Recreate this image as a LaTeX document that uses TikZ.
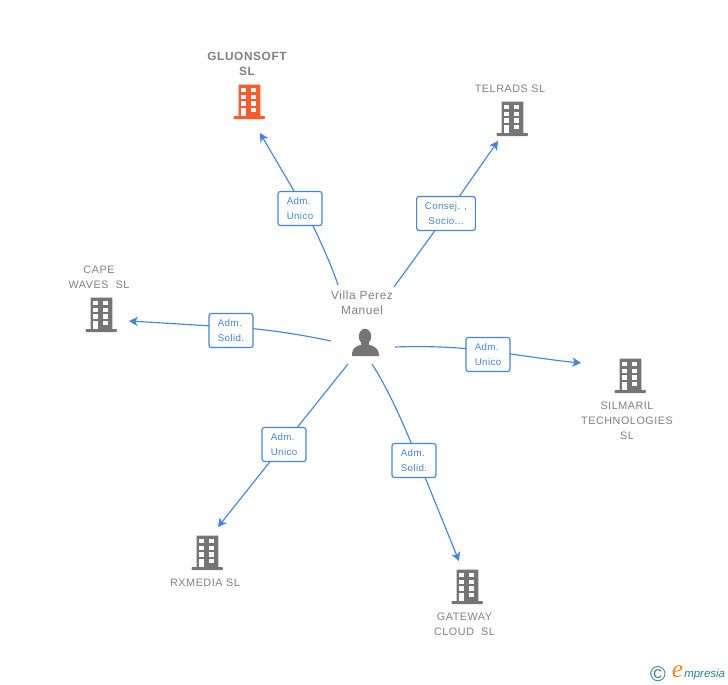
\documentclass[tikz,border=0pt]{standalone}
\usepackage{fontspec}
\setmainfont{Liberation Sans}
\newfontfamily\lblfont[LetterSpace=5]{Liberation Sans}
\newfontfamily\boxfont[LetterSpace=4]{Liberation Sans}
\newfontfamily\logofont{Liberation Serif}
\usetikzlibrary{arrows.meta}
\definecolor{linkblue}{HTML}{4285E0}
\definecolor{icongrey}{HTML}{757575}
\definecolor{textgrey}{HTML}{808080}
\definecolor{hot}{HTML}{FF5A2B}
\definecolor{logoteal}{HTML}{2F7F97}
\definecolor{logoorange}{HTML}{F08A1D}
\tikzset{
  x=0.75pt,y=-0.75pt,
  conn/.style={draw=linkblue,line width=0.85pt},
  arr/.style={conn,-{Stealth[length=6.5pt,width=6.8pt,inset=1.8pt]}},
  linkbox/.style={draw=linkblue,fill=white,rounded corners=1.8pt,line width=0.85pt,
    minimum width=33pt,minimum height=25.5pt,inner sep=0pt,align=left,
    font=\boxfont\fontsize{7.3pt}{11.2pt}\selectfont,text=linkblue},
  cname/.style={inner sep=0pt,align=center,font=\lblfont\fontsize{8.1pt}{11.25pt}\selectfont,text=textgrey},
  pname/.style={inner sep=0pt,align=center,font=\lblfont\fontsize{8.9pt}{11.25pt}\selectfont,text=textgrey},
  iconbox/.style={inner sep=0pt,minimum size=1pt},
  pics/building/.style={code={
    \fill[#1,rounded corners=0.4pt] (-9.5,-17.3) rectangle (12.3,14.5);
    \fill[#1,rounded corners=0.6pt] (-14.5,14) rectangle (16.8,17);
    \foreach \yy in {-14,-7.4,-0.8}{
      \fill[white] (-6.7,\yy) rectangle (-1.8,\yy+4.3);
      \fill[white] (2.8,\yy) rectangle (8,\yy+4.3);
    }
    \fill[white] (-6.7,5.8) rectangle (-1.8,14);
    \fill[white] (2.8,5.8) rectangle (8,10.4);
  }}
}
\begin{document}
\begin{tikzpicture}
\useasboundingbox (0,0) rectangle (728,685);
% icons
\node[iconbox] (gluon) at (248,102) {};
\node[iconbox] (telrads) at (511,119) {};
\node[iconbox] (cape) at (100,315) {};
\node[iconbox] (silmaril) at (629,376) {};
\node[iconbox] (rxmedia) at (206,553) {};
\node[iconbox] (gateway) at (466,587) {};
\pic at (gluon) {building=hot};
\pic at (telrads) {building=icongrey};
\pic at (cape) {building=icongrey};
\pic at (silmaril) {building=icongrey};
\pic at (rxmedia) {building=icongrey};
\pic at (gateway) {building=icongrey};
% person
\node[iconbox] (person) at (365,343) {};
\fill[icongrey] (365,336.5) ellipse (6.2 and 7.7);
\fill[icongrey] (352,356) .. controls (352,350) and (353,347.5) .. (360,345)
  -- (370,345) .. controls (377,347.5) and (379,350) .. (379,356) -- cycle;
\fill[icongrey] (361,340) rectangle (369,346);
% labels
\node[cname,font=\lblfont\fontsize{8.9pt}{11.25pt}\bfseries\selectfont] (tg) at (247,64) {GLUONSOFT\\SL};
\node[cname] (tt) at (510,88.8) {TELRADS SL};
\node[cname] (tc) at (99,277.2) {CAPE\\WAVES\ \ SL};
\node[cname] (ts) at (627,420.8) {SILMARIL\\TECHNOLOGIES\\SL};
\node[cname] (tr) at (205,582.8) {RXMEDIA SL};
\node[cname] (tw) at (464.5,624.3) {GATEWAY\\CLOUD\ \ SL};
\node[pname] (tp) at (362,302.5) {Villa Perez\\Manuel};
% connector ends
\coordinate (s1) at (338,285); \coordinate (e1) at (260,133);
\coordinate (s2) at (394,287); \coordinate (e2) at (498,141);
\coordinate (s3) at (331,341); \coordinate (e3) at (129,321);
\coordinate (s4) at (395,347); \coordinate (e4) at (581,363);
\coordinate (s5) at (348,364); \coordinate (e5) at (218,527);
\coordinate (s6) at (372,364); \coordinate (e6) at (459,561);
% points where each connector passes behind its box
\coordinate (b1) at (304,208);
\coordinate (b2) at (447,214);
\coordinate (b3) at (231,327);
\coordinate (b4) at (488,351);
\coordinate (b5) at (284,444);
\coordinate (b6) at (418,460);
\draw[conn] (s1) .. controls (331,264) and (318,235) .. (b1);
\draw[arr] (b1) -- (e1);
\draw[conn] (s2) -- (b2);
\draw[arr] (b2) -- (e2);
\draw[conn] (s3) .. controls (298,334) and (265,329) .. (b3);
\draw[arr] (b3) .. controls (200,325.5) and (165,323) .. (e3);
\draw[conn] (s4) .. controls (420,346) and (455,346.5) .. (b4);
\draw[arr] (b4) .. controls (520,355) and (550,360) .. (e4);
\draw[conn] (s5) -- (b5);
\draw[arr] (b5) -- (e5);
\draw[conn] (s6) .. controls (390,392) and (407,432) .. (b6);
\draw[arr] (b6) -- (e6);
% link boxes
\node[linkbox] (l1) at (300,208.5) {Adm.\\Unico};
\node[linkbox,minimum width=44pt,align=center] (l2) at (446,213.5) {Consej. ,\\Socio...};
\node[linkbox] (l3) at (231,330.5) {Adm.\\Solid.};
\node[linkbox] (l4) at (488,354.5) {Adm.\\Unico};
\node[linkbox] (l5) at (284,444.5) {Adm.\\Unico};
\node[linkbox] (l6) at (414,460.5) {Adm.\\Solid.};
% logo
\node[inner sep=0pt,text=logoteal,font=\fontsize{16pt}{16pt}\selectfont] (lc) at (658,674.5) {©};
\node[inner sep=0pt,text=logoorange,font=\logofont\itshape\fontsize{19pt}{19pt}\selectfont] (le) at (677.5,671.5) {e};
\node[inner sep=0pt,anchor=west,text=logoteal,font=\itshape\fontsize{8.6pt}{10pt}\selectfont] (lm) at (684,675) {mpresia};
\end{tikzpicture}
\end{document}
